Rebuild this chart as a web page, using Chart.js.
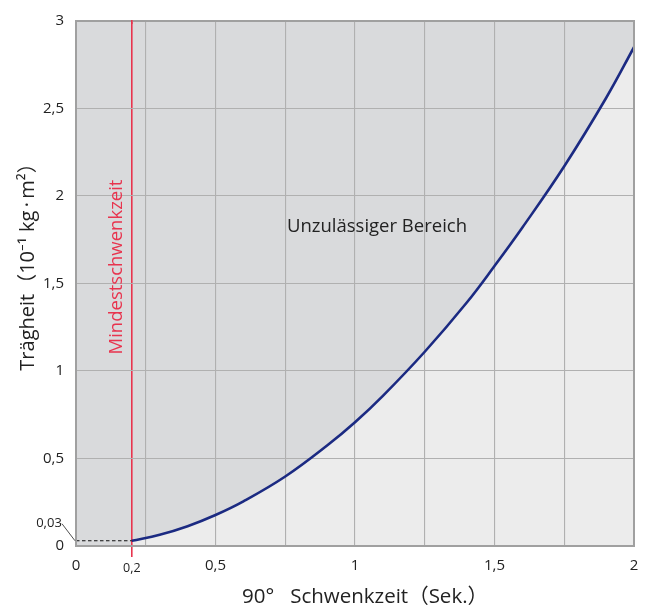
<!DOCTYPE html>
<html><head><meta charset="utf-8">
<script src="https://cdn.jsdelivr.net/npm/chart.js@4.4.1/dist/chart.umd.min.js"></script>
<style>html,body{margin:0;padding:0;background:#fff}canvas{display:block}</style>
</head><body>
<canvas id="c" width="650" height="612"></canvas>
<script>
// ---- data ----
const swingTime = [0.2, 0.3, 0.4, 0.5, 0.6, 0.75, 0.9, 1.0, 1.1, 1.25, 1.4, 1.5, 1.6, 1.75, 1.9, 2.0];
const inertia   = [0.03, 0.064, 0.113, 0.177, 0.255, 0.397, 0.574, 0.707, 0.858, 1.11, 1.39, 1.60, 1.82, 2.17, 2.56, 2.85];
const minTime = 0.2;
const minInertia = 0.03;
const xRange = [0, 2];
const yRange = [0, 3];
const xGridValues = [0, 0.25, 0.5, 0.75, 1, 1.25, 1.5, 1.75, 2];
const xTickLabels = [0, 0.5, 1, 1.5, 2];
const yGridStep = 0.5;
const xTitle = '90°   Schwenkzeit（Sek.）';
const yTitle = 'Trägheit（10⁻¹ kg\u2009·\u2009m²）';
const minLabel = 'Mindestschwenkzeit';
const zoneLabel = 'Unzulässiger Bereich';

const FONT = '"Open Sans", "Noto Sans", "Noto Sans CJK JP", sans-serif';
const RED = '#e8344e';
const GRID = '#b0b0b0';
const fmt = v => String(v).replace('.', ',');

const curvePts = swingTime.map((t, i) => ({x: t, y: inertia[i]}));
const floorPts = [{x: xRange[0], y: minInertia}, {x: minTime, y: minInertia}];
const zonePts = [{x: xRange[0], y: yRange[1]}, {x: xRange[1], y: yRange[1]}];

const deco = {
  id: 'deco',
  afterDraw(chart) {
    const {ctx, chartArea: a, scales: {x, y}} = chart;
    ctx.save();
    // frame
    ctx.strokeStyle = '#a0a0a0';
    ctx.lineWidth = 2;
    ctx.strokeRect(a.left, a.top, a.right - a.left, a.bottom - a.top);
    // red line over top border
    const rx = x.getPixelForValue(minTime);
    ctx.strokeStyle = RED; ctx.lineWidth = 1.6;
    ctx.beginPath(); ctx.moveTo(rx, a.top - 1); ctx.lineTo(rx, a.top + 3); ctx.stroke();

    ctx.fillStyle = '#222';
    // 0,2 tick label
    ctx.font = '12.5px ' + FONT;
    ctx.textAlign = 'center'; ctx.textBaseline = 'middle';
    ctx.fillText(fmt(minTime), rx, a.bottom + 22);
    // 0,03 label with leader
    const fy = y.getPixelForValue(minInertia);
    ctx.font = '13px ' + FONT;
    ctx.fillText(fmt(minInertia), a.left - 27, fy - 17);
    ctx.strokeStyle = '#222'; ctx.lineWidth = 0.8;
    ctx.beginPath(); ctx.moveTo(a.left - 14, fy - 17); ctx.lineTo(a.left - 1, fy); ctx.stroke();

    // zone label
    ctx.font = '18.5px ' + FONT;
    ctx.textAlign = 'center'; ctx.textBaseline = 'alphabetic';
    ctx.fillStyle = '#222';
    ctx.fillText(zoneLabel, 377, 232);

    // minimum label (rotated)
    ctx.save();
    ctx.translate(rx - 10, 267);
    ctx.rotate(-Math.PI / 2);
    ctx.fillStyle = RED;
    ctx.font = '18.5px ' + FONT;
    ctx.textAlign = 'center'; ctx.textBaseline = 'alphabetic';
    ctx.fillText(minLabel, 0, 0);
    ctx.restore();

    // axis titles
    ctx.fillStyle = '#222';
    ctx.font = '20.5px ' + FONT;
    ctx.textAlign = 'center'; ctx.textBaseline = 'alphabetic';
    ctx.fillText(xTitle, 365, 603);
    ctx.font = '20px ' + FONT;
    ctx.save();
    ctx.translate(34, 262);
    ctx.rotate(-Math.PI / 2);
    ctx.fillText(yTitle, 0, 0);
    ctx.restore();
    ctx.restore();
  }
};

new Chart(document.getElementById('c'), {
  type: 'line',
  data: {
    datasets: [
      {
        label: 'Trägheit',
        data: curvePts,
        borderColor: '#1b2a82',
        borderWidth: 2.6,
        backgroundColor: '#ececec',
        fill: 'origin',
        pointRadius: 0,
        tension: 0.4
      },
      {
        label: 'Minimum',
        data: floorPts,
        borderColor: '#111',
        borderWidth: 1.1,
        borderDash: [3.5, 2.5],
        pointRadius: 0,
        fill: false
      },
      {
        label: 'Zone',
        data: zonePts,
        borderWidth: 0,
        borderColor: 'rgba(0,0,0,0)',
        backgroundColor: '#d9dadc',
        fill: 'origin',
        pointRadius: 0
      }
    ]
  },
  options: {
    responsive: false,
    animation: false,
    layout: {padding: {top: 17, right: 16, left: 0, bottom: 0}},
    plugins: {
      legend: {display: false},
      tooltip: {enabled: false},
      filler: {drawTime: 'beforeDraw'}
    },
    scales: {
      x: {
        type: 'linear',
        min: xRange[0], max: xRange[1],
        afterBuildTicks: s => { s.ticks = [minTime, ...xGridValues].sort((a, b) => a - b).map(v => ({value: v})); },
        afterFit: s => { s.height = 66; },
        border: {display: false},
        grid: {
          color: c => (c.tick && c.tick.value === minTime) ? RED : GRID,
          lineWidth: c => (c.tick && c.tick.value === minTime) ? 1.6 : 1.1,
          tickColor: c => (c.tick && c.tick.value === minTime) ? RED : 'rgba(0,0,0,0)',
          tickLength: 11,
          drawTicks: true
        },
        ticks: {
          autoSkip: false, maxRotation: 0, padding: 0,
          color: '#222',
          font: {family: FONT, size: 15},
          callback: v => xTickLabels.includes(v) ? fmt(v) : ''
        }
      },
      y: {
        type: 'linear',
        min: yRange[0], max: yRange[1],
        afterFit: s => { s.width = 76; },
        border: {display: false},
        grid: {color: GRID, lineWidth: 1.1, drawTicks: false},
        ticks: {
          stepSize: yGridStep, padding: 12,
          color: '#222',
          font: {family: FONT, size: 15},
          callback: v => fmt(v)
        }
      }
    }
  },
  plugins: [deco]
});
</script>
</body></html>
